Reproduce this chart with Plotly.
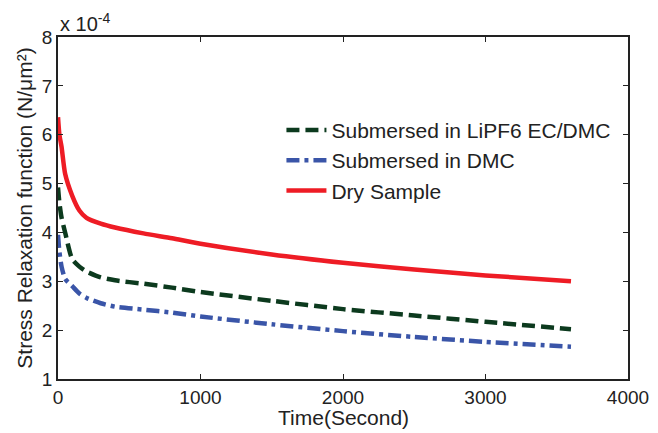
import plotly.graph_objects as go

# Time in seconds
time_s = [0, 10, 25, 50, 100, 150, 200, 300, 400, 600, 800, 1000, 1500, 2000, 2500, 3000, 3600]
# Stress relaxation function, units of 1e-4 N/um^2
lipf6 = [4.92, 4.60, 4.30, 4.00, 3.45, 3.30, 3.20, 3.08, 3.02, 2.95, 2.87, 2.78, 2.60, 2.43, 2.30, 2.17, 2.02]
dmc = [3.95, 3.60, 3.30, 3.05, 2.90, 2.75, 2.66, 2.55, 2.48, 2.42, 2.36, 2.28, 2.12, 1.98, 1.86, 1.76, 1.66]
dry = [6.36, 6.00, 5.75, 5.20, 4.75, 4.45, 4.30, 4.18, 4.10, 3.98, 3.88, 3.77, 3.55, 3.38, 3.24, 3.12, 3.00]

names = ["Submersed in LiPF6 EC/DMC", "Submersed in DMC", "Dry Sample"]
colors = ["#0c3a1e", "#3a55a8", "#ee1c25"]
dashes = ["13px,6px", "13px,5px,4px,5px", "solid"]

FONT = "Liberation Sans, Arial, Helvetica, sans-serif"
TXT = "#222222"

fig = go.Figure()
for name, ys, c, d in zip(names, [lipf6, dmc, dry], colors, dashes):
    fig.add_trace(go.Scatter(x=time_s, y=ys, mode="lines", name=name,
                             line=dict(color=c, width=4.5, dash=d, shape="spline", smoothing=0.6)))

axis_common = dict(showgrid=False, zeroline=False, showline=True, mirror="ticks",
                   linecolor="#222222", linewidth=1.5, ticks="inside", ticklen=5,
                   tickwidth=1, tickcolor="#222222", automargin=False,
                   tickfont=dict(family=FONT, size=19, color=TXT))

# page body has an 8px default margin, so figure is sized/offset to compensate
fig.update_layout(
    width=650, height=425,
    margin=dict(l=50, r=30, t=29, b=54),
    paper_bgcolor="white", plot_bgcolor="white",
    font=dict(family=FONT, color=TXT),
    showlegend=True,
    legend=dict(x=0.392, y=0.787, xanchor="left", yanchor="top",
                bgcolor="rgba(0,0,0,0)", borderwidth=0,
                font=dict(family=FONT, size=21, color=TXT),
                tracegroupgap=0, itemwidth=40),
    xaxis=dict(range=[0, 4000], dtick=1000, tick0=0, **axis_common),
    yaxis=dict(range=[1, 8], dtick=1, tick0=1,
               title=dict(text="Stress Relaxation function (N/μm²)", font=dict(family=FONT, size=21, color=TXT), standoff=4),
               **axis_common),
    annotations=[
        dict(x=0, y=1, xref="paper", yref="paper", xanchor="left", yanchor="bottom",
             text="x 10<sup>-4</sup>", showarrow=False,
             font=dict(family=FONT, size=20, color=TXT)),
        dict(x=0.5, y=-0.112, xref="paper", yref="paper", xanchor="center", yanchor="middle",
             text="Time(Second)", showarrow=False,
             font=dict(family=FONT, size=21, color=TXT)),
    ],
)

fig.write_html("out.html")
